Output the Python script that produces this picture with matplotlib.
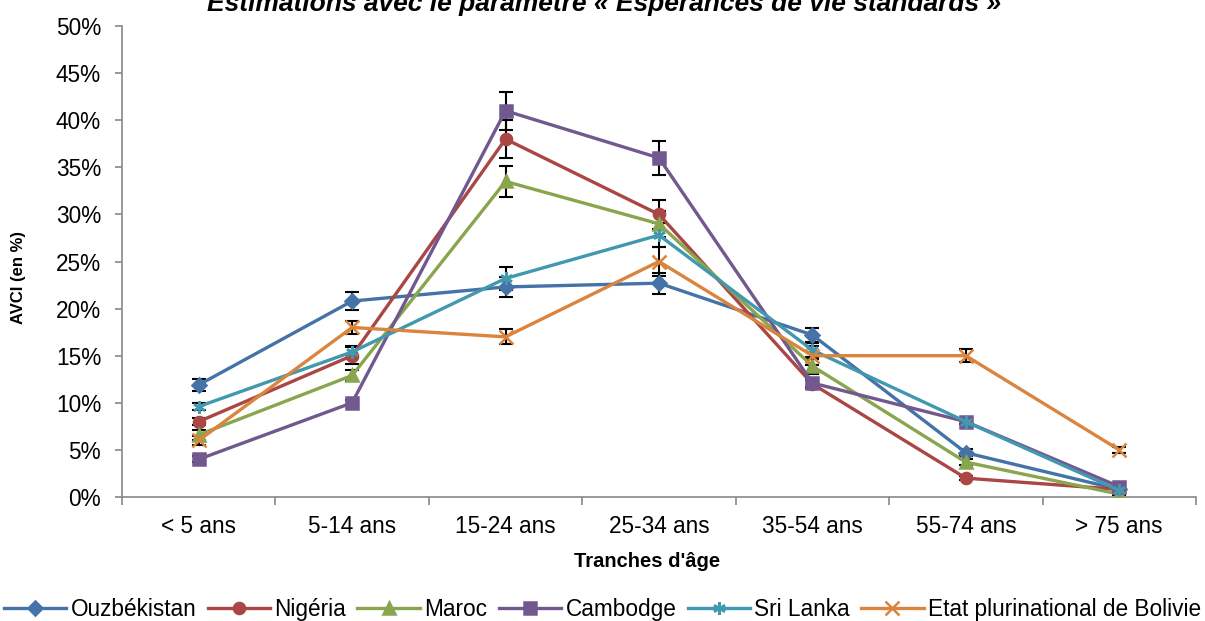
import matplotlib
matplotlib.use("Agg")
import matplotlib.pyplot as plt
import numpy as np

plt.rcParams['font.family'] = ['Liberation Sans', 'DejaVu Sans']

categories = ["< 5 ans", "5-14 ans", "15-24 ans", "25-34 ans", "35-54 ans", "55-74 ans", "> 75 ans"]
ouzbekistan = [11.9, 20.8, 22.3, 22.7, 17.2, 4.7, 0.8]
nigeria = [8.0, 15.0, 38.0, 30.0, 12.0, 2.0, 0.8]
maroc = [6.6, 12.9, 33.5, 29.0, 13.9, 3.7, 0.3]
cambodge = [4.0, 10.0, 41.0, 36.0, 12.1, 8.0, 1.1]
sri_lanka = [9.6, 15.4, 23.2, 27.8, 15.6, 8.0, 0.7]
bolivie = [6.0, 18.0, 17.0, 25.0, 15.0, 15.0, 5.0]

err_ouzbekistan = [0.6, 1.0, 1.1, 1.1, 0.7, 0.4, 0.2]
err_nigeria = [0.4, 0.9, 2.0, 1.5, 0.4, 0.2, 0.1]
err_maroc = [0.5, 0.6, 1.6, 1.4, 0.8, 0.3, 0.1]
err_cambodge = [0.3, 0.3, 2.0, 1.8, 0.4, 0.3, 0.1]
err_sri_lanka = [0.4, 0.6, 1.2, 1.3, 0.7, 0.3, 0.1]
err_bolivie = [0.5, 0.7, 0.8, 1.5, 1.0, 0.7, 0.3]

series = [
    ("Ouzbékistan", ouzbekistan, err_ouzbekistan, "#4572A7", "D", 7),
    ("Nigéria", nigeria, err_nigeria, "#AA4643", "o", 8),
    ("Maroc", maroc, err_maroc, "#89A54E", "^", 8),
    ("Cambodge", cambodge, err_cambodge, "#71588F", "s", 8),
    ("Sri Lanka", sri_lanka, err_sri_lanka, "#4198AF", (6, 2, 0), 9),
    ("Etat plurinational de Bolivie", bolivie, err_bolivie, "#DB843D", "x", 10),
]

fig = plt.figure(figsize=(12.05, 6.21), dpi=100)
ax = fig.add_axes([0.1012, 0.1997, 0.8913, 0.7584])

x = np.arange(len(categories))
handles = []
for name, vals, errs, col, mk, ms in series:
    ax.errorbar(x, vals, yerr=errs, fmt='none', ecolor='black', elinewidth=1.5,
                capsize=5, capthick=1.5, zorder=2)
    h, = ax.plot(x, vals, color=col, lw=2.4, marker=mk, ms=ms, mfc=col, mec=col,
                 mew=1.8, label=name, zorder=3)
    handles.append(h)

ax.set_xlim(-0.5, len(categories) - 0.5)
ax.set_ylim(0, 50)
ax.set_yticks(np.arange(0, 51, 5))
ax.set_yticklabels([f"{v}%" for v in range(0, 51, 5)])
ax.set_xticks(x)
ax.set_xticklabels(categories)
ax.set_xticks(np.arange(-0.5, len(categories), 1), minor=True)
ax.tick_params(axis='x', which='major', length=0, labelsize=16.3, pad=13)
ax.tick_params(axis='x', which='minor', length=6, color='#888888', width=1.2)
ax.tick_params(axis='y', length=5, color='#888888', width=1.2, labelsize=16.3, pad=10)
for s in ['top', 'right']:
    ax.spines[s].set_visible(False)
for s in ['left', 'bottom']:
    ax.spines[s].set_color('#888888')
    ax.spines[s].set_linewidth(1.2)

ax.set_xlabel("Tranches d'âge", fontsize=14.5, fontweight='bold')
ax.xaxis.set_label_coords(0.489, -0.117)
ax.set_ylabel("AVCI (en %)", fontsize=12, fontweight='bold')
ax.yaxis.set_label_coords(-0.0896, 0.466)

fig.text(0.501, 1 - 11 / 621, "Estimations avec le paramètre « Espérances de vie standards »",
         ha='center', va='baseline', fontsize=19, fontweight='bold', fontstyle='italic')

fig.legend(handles=handles, loc='center', bbox_to_anchor=(0.5, 0.019), ncol=6,
           frameon=False, fontsize=16.3, handlelength=2.75, handletextpad=0.2,
           columnspacing=0.5, borderaxespad=0)

fig.savefig("out.png", dpi=100)
